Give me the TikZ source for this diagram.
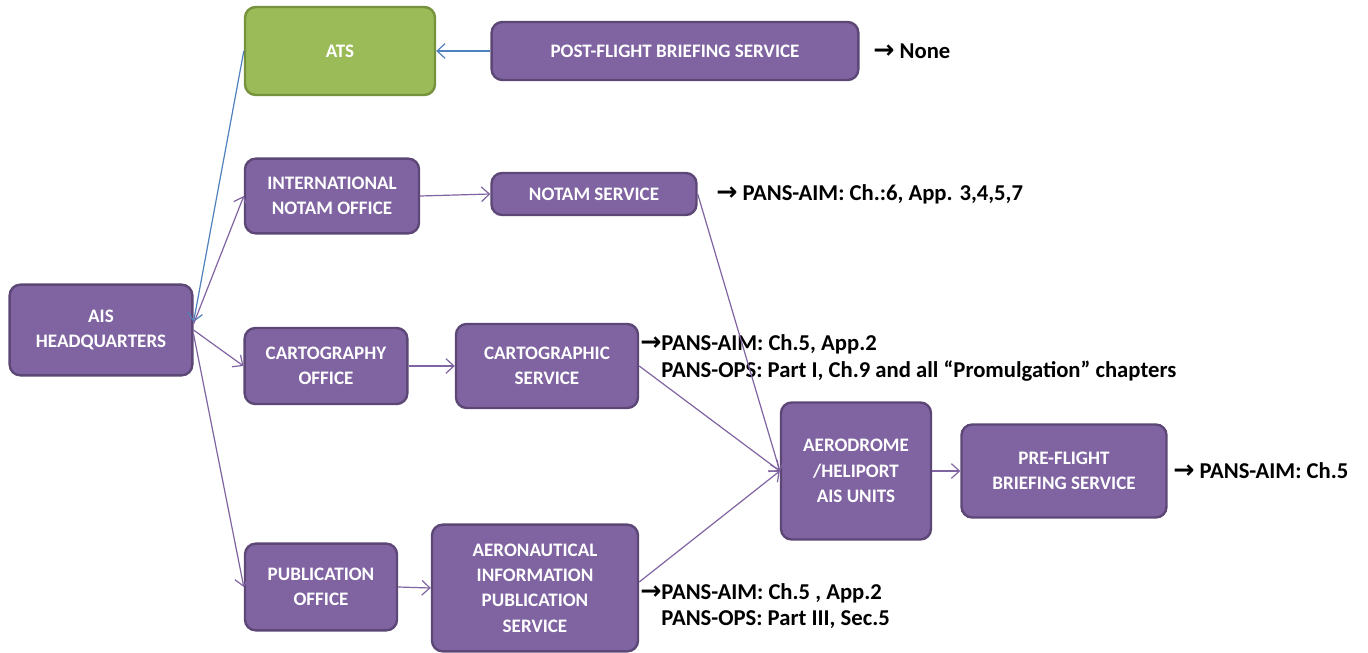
\documentclass[tikz,border=0pt]{standalone}
\usepackage{fontspec}
\setmainfont{Carlito}
\newfontfamily\arrowfont{DejaVu Sans}
\usetikzlibrary{positioning,calc,arrows.meta}
\definecolor{boxpurple}{HTML}{8064A2}
\definecolor{boxedge}{HTML}{5C4776}
\definecolor{atsgreen}{HTML}{9BBB59}
\definecolor{atsedge}{HTML}{76923C}
\definecolor{linkblue}{HTML}{4F81BD}
\newcommand{\arr}{{\arrowfont\bfseries\fontsize{19}{20}\selectfont →}}

\begin{document}
\begin{tikzpicture}[x=0.75pt,y=-0.75pt,
    box/.style={draw=boxedge, fill=boxpurple, line width=1.8pt, rounded corners=8pt,
        text=white, font=\bfseries\fontsize{14.3}{19}\selectfont, align=center, inner sep=2pt},
    greenbox/.style={box, draw=atsedge, fill=atsgreen},
    link/.style={draw=boxpurple, line width=0.9pt, -{Straight Barb[length=6pt,width=11pt]}},
    bluelink/.style={link, draw=linkblue},
    note/.style={anchor=west, font=\bfseries\fontsize{17}{20}\selectfont, align=left, inner sep=0pt}]
            \fill[white] (0,0) rectangle (1368,653);
            \useasboundingbox (0,0) rectangle (1368,653);

            %Nodes
            \node[greenbox, minimum width=142.5pt, minimum height=66pt] at (340,51) (ats) {ATS};
            \node[box, minimum width=275pt, minimum height=43.5pt] at (675,51) (post) {POST-FLIGHT BRIEFING SERVICE};
            \node[box, minimum width=130.5pt, minimum height=56pt] at (332,196) (intl) {INTERNATIONAL\\NOTAM OFFICE};
            \node[box, minimum width=153.75pt, minimum height=31.5pt] at (594,194) (notam) {NOTAM SERVICE};
            \node[box, minimum width=137pt, minimum height=68pt] at (101,330) (hq) {AIS\\HEADQUARTERS};
            \node[box, minimum width=122pt, minimum height=57pt] at (326,366) (cartoff) {CARTOGRAPHY\\OFFICE};
            \node[box, minimum width=136.5pt, minimum height=63pt] at (547,366) (cartserv) {CARTOGRAPHIC\\SERVICE};
            \node[box, minimum width=112.5pt, minimum height=102.75pt] at (856,471) (aero) {AERODROME\\/HELIPORT\\AIS UNITS};
            \node[box, minimum width=153.75pt, minimum height=69.75pt] at (1064,471) (pre) {PRE-FLIGHT\\BRIEFING SERVICE};
            \node[box, minimum width=114pt, minimum height=65pt] at (321,587) (puboff) {PUBLICATION\\OFFICE};
            \node[box, minimum width=154.5pt, minimum height=95pt] at (535,588) (aip) {AERONAUTICAL\\INFORMATION\\PUBLICATION\\SERVICE};

            %Notes
            \node[note] at (873,51) (nonote) {\arr\ None};
            \node[note] at (716,194) (notamnote) {\arr\ PANS-AIM: Ch.:6, App. 3,4,5,7};
            \node[note] at (640,358) (cartnote) {\arr PANS-AIM: Ch.5, App.2\\\phantom{\arr}PANS-OPS: Part I, Ch.9 and all “Promulgation” chapters};
            \node[note] at (1173,471) (prenote) {\arr\ PANS-AIM: Ch.5};
            \node[note] at (640,606) (aipnote) {\arr PANS-AIM: Ch.5 , App.2\\\phantom{\arr}PANS-OPS: Part III, Sec.5};

            %Lines
            \draw[bluelink] (post.west) -- (ats.east);
            \draw[bluelink] (ats.west) -- ($(hq.east)+(0,-8)$);
            \draw[link] ($(hq.east)+(0,-6)$) -- (intl.west);
            \draw[link] (hq.east) -- (cartoff.west);
            \draw[link] ($(hq.east)+(0,4)$) -- (puboff.west);
            \draw[link] (intl.east) -- (notam.west);
            \draw[link] (cartoff.east) -- (cartserv.west);
            \draw[link] (puboff.east) -- (aip.west);
            \draw[link] (notam.east) -- (aero.west);
            \draw[link] (cartserv.east) -- (aero.west);
            \draw[link] ($(aip.east)+(0,-6)$) -- (aero.west);
            \draw[link] (aero.east) -- (pre.west);
\end{tikzpicture}
\end{document}
